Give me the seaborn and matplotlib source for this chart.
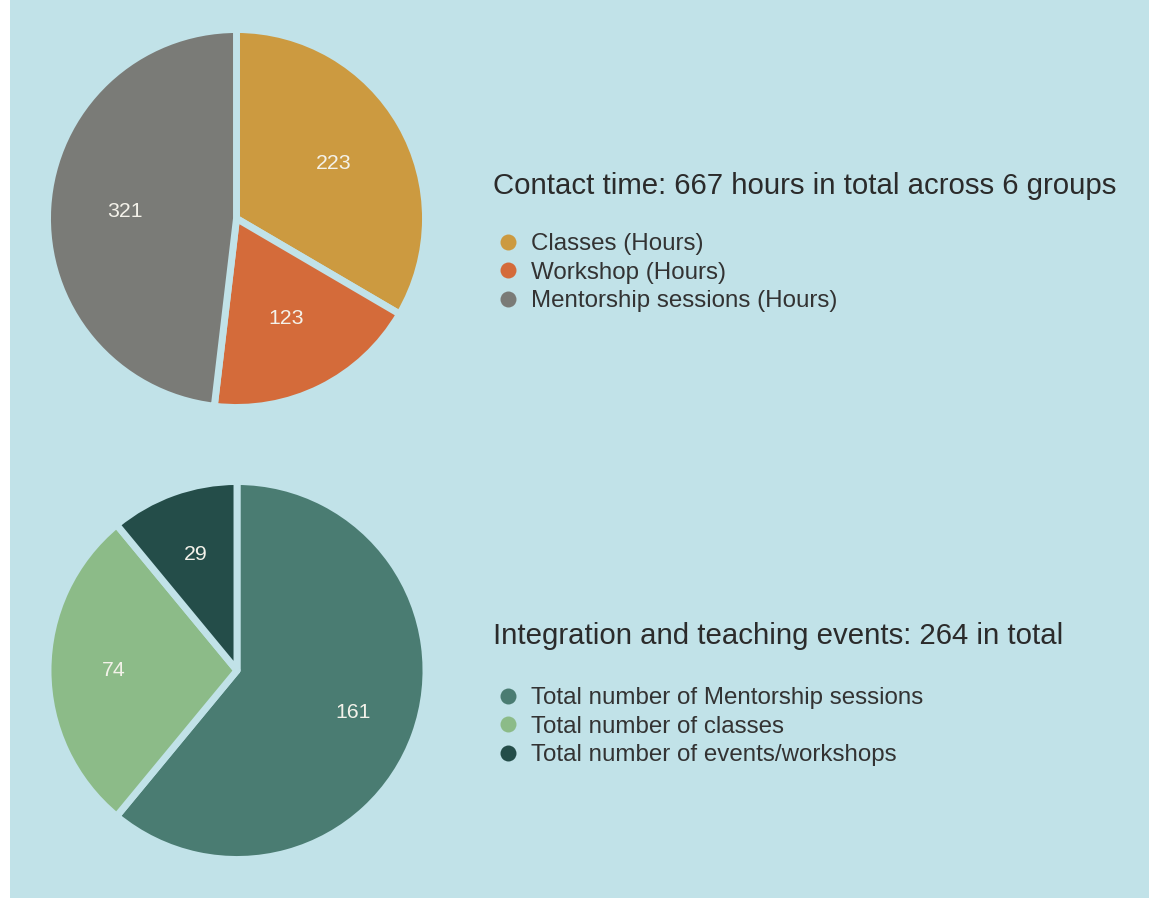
import matplotlib
matplotlib.use("Agg")
import matplotlib.pyplot as plt
from matplotlib.lines import Line2D
from matplotlib.patches import Rectangle
import seaborn as sns

sns.set_theme(style="white")
plt.rcParams['font.family'] = ['Liberation Sans', 'DejaVu Sans']

# data
hours_labels = ["Classes (Hours)", "Workshop (Hours)", "Mentorship sessions (Hours)"]
hours_values = [223, 123, 321]
events_labels = ["Total number of Mentorship sessions", "Total number of classes",
                 "Total number of events/workshops"]
events_values = [161, 74, 29]

hours_title = "Contact time: 667 hours in total across 6 groups"
events_title = "Integration and teaching events: 264 in total"

bg = "#c1e2e8"
hours_colors = sns.color_palette(["#cc9a40", "#d46b3a", "#7a7b77"])
events_colors = sns.color_palette(["#4a7c72", "#8cbb88", "#244d49"])

W, H = 1149, 898
fig = plt.figure(figsize=(W / 100, H / 100), dpi=100, facecolor=bg)
fig.patches.append(Rectangle((0, 0), 10 / W, 1, transform=fig.transFigure,
                             facecolor="white", edgecolor="none"))

R = 189


def pie_panel(cx, cy, values, colors, lab_dist):
    ax = fig.add_axes([(cx - R) / W, (H - cy - R) / H, 2 * R / W, 2 * R / H])
    ax.pie(values, colors=colors, startangle=90, counterclock=False,
           autopct=lambda p: f"{p * sum(values) / 100:.0f}", pctdistance=lab_dist,
           wedgeprops=dict(edgecolor=bg, linewidth=5, joinstyle="round"),
           textprops=dict(color="#f4f2ea", fontsize=15.3))
    ax.set_xlim(-1, 1)
    ax.set_ylim(-1, 1)
    ax.set_facecolor("none")
    ax.axis("off")
    return ax


def side_legend(labels, colors, title, title_y, top_y):
    fig.text(493 / W, 1 - title_y / H, title, fontsize=21.2, color="#2b2b2b",
             va="baseline", ha="left")
    handles = [Line2D([], [], marker="o", linestyle="none", markersize=11.5,
                      markerfacecolor=c, markeredgecolor="none") for c in colors]
    fig.legend(handles, labels, loc="upper left", bbox_to_anchor=(498 / W, 1 - top_y / H),
               frameon=False, fontsize=17.4, handlelength=0.8, handletextpad=0.58,
               labelspacing=0.27, borderpad=0, borderaxespad=0, labelcolor="#333333")


pie_panel(236.5, 218.5, hours_values, hours_colors, 0.59)
pie_panel(237, 670.5, events_values, events_colors, 0.65)

side_legend(hours_labels, hours_colors, hours_title, 194, 233)
side_legend(events_labels, events_colors, events_title, 644, 687)

fig.savefig("out.png", dpi=100, facecolor=bg)
